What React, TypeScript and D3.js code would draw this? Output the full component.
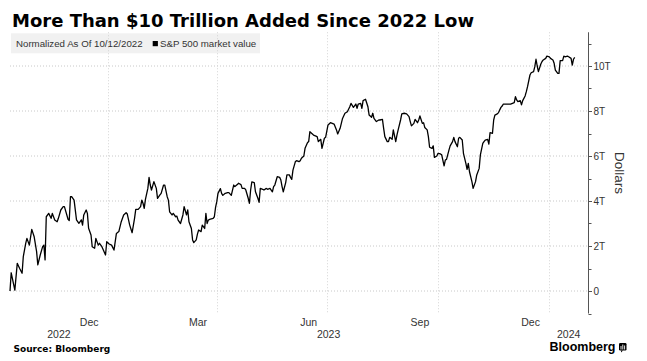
import React from "react";
import * as d3 from "d3";

// ---- DATA ----
const title = "More Than $10 Trillion Added Since 2022 Low";
const legendNote = "Normalized As Of 10/12/2022";
const seriesName = "S&P 500 market value";
const axisTitle = "Dollars";
const source = "Source: Bloomberg";

const dates: string[] = [
  "2022-10-12","2022-10-13","2022-10-16","2022-10-18","2022-10-20","2022-10-22","2022-10-23","2022-10-25","2022-10-26","2022-10-28",
  "2022-10-30","2022-11-01","2022-11-03","2022-11-04","2022-11-06","2022-11-08","2022-11-09","2022-11-10","2022-11-11","2022-11-13",
  "2022-11-15","2022-11-16","2022-11-18","2022-11-20","2022-11-21","2022-11-23","2022-11-25","2022-11-26","2022-11-29","2022-11-30",
  "2022-12-01","2022-12-02","2022-12-04","2022-12-06","2022-12-08","2022-12-10","2022-12-11","2022-12-12","2022-12-14","2022-12-15",
  "2022-12-16","2022-12-18","2022-12-19","2022-12-21","2022-12-22","2022-12-24","2022-12-25","2022-12-27","2022-12-30",
  "2022-12-31","2023-01-02","2023-01-04","2023-01-06","2023-01-08","2023-01-10","2023-01-12","2023-01-14","2023-01-16","2023-01-17",
  "2023-01-19","2023-01-21","2023-01-23","2023-01-24","2023-01-26","2023-01-28","2023-01-29","2023-01-30","2023-01-31","2023-02-01",
  "2023-02-03","2023-02-04","2023-02-05","2023-02-06","2023-02-08","2023-02-10","2023-02-11","2023-02-13","2023-02-14","2023-02-16",
  "2023-02-17","2023-02-19","2023-02-20","2023-02-21","2023-02-23","2023-02-24","2023-02-26","2023-02-27","2023-02-28","2023-03-02",
  "2023-03-04","2023-03-05","2023-03-07","2023-03-08","2023-03-09","2023-03-11","2023-03-12","2023-03-13","2023-03-15","2023-03-16",
  "2023-03-17","2023-03-19","2023-03-20","2023-03-22","2023-03-23","2023-03-24","2023-03-25",
  "2023-03-26","2023-03-29","2023-03-30","2023-03-31","2023-04-01","2023-04-02","2023-04-04","2023-04-05","2023-04-06","2023-04-08",
  "2023-04-10","2023-04-11","2023-04-13","2023-04-15","2023-04-16","2023-04-18","2023-04-19","2023-04-21","2023-04-22","2023-04-24",
  "2023-04-25","2023-04-27","2023-04-28","2023-04-29","2023-04-30","2023-05-02","2023-05-03","2023-05-05","2023-05-06","2023-05-07",
  "2023-05-09","2023-05-10","2023-05-12","2023-05-13","2023-05-15","2023-05-17","2023-05-18","2023-05-19","2023-05-21","2023-05-23",
  "2023-05-24","2023-05-25","2023-05-26","2023-05-28","2023-05-29","2023-05-31","2023-06-01","2023-06-02","2023-06-03","2023-06-05",
  "2023-06-06","2023-06-08","2023-06-09","2023-06-10","2023-06-12","2023-06-13","2023-06-15","2023-06-16",
  "2023-06-17","2023-06-20","2023-06-23","2023-06-24","2023-06-26","2023-06-27","2023-06-29","2023-06-30","2023-07-02","2023-07-04",
  "2023-07-07","2023-07-09","2023-07-10","2023-07-12","2023-07-14","2023-07-16","2023-07-18","2023-07-20","2023-07-21","2023-07-23",
  "2023-07-25","2023-07-26","2023-07-27","2023-07-29","2023-07-30","2023-07-31","2023-08-02","2023-08-04","2023-08-05","2023-08-07",
  "2023-08-08","2023-08-09","2023-08-11","2023-08-13",
  "2023-08-14","2023-08-16","2023-08-17","2023-08-18","2023-08-20","2023-08-21","2023-08-22","2023-08-24","2023-08-25","2023-08-27",
  "2023-08-28","2023-08-29","2023-08-31","2023-09-01","2023-09-03","2023-09-05","2023-09-07","2023-09-08","2023-09-09","2023-09-11",
  "2023-09-12","2023-09-14","2023-09-15","2023-09-16","2023-09-18","2023-09-19","2023-09-20","2023-09-22","2023-09-23","2023-09-24",
  "2023-09-26","2023-09-27","2023-09-28","2023-09-30","2023-10-01","2023-10-03","2023-10-04","2023-10-06","2023-10-07","2023-10-08",
  "2023-10-10","2023-10-11","2023-10-13","2023-10-14","2023-10-15","2023-10-17","2023-10-18","2023-10-19","2023-10-21","2023-10-22",
  "2023-10-24","2023-10-25","2023-10-26","2023-10-27","2023-10-29","2023-10-30","2023-11-01","2023-11-02","2023-11-04","2023-11-05",
  "2023-11-07","2023-11-08","2023-11-09","2023-11-11","2023-11-12","2023-11-13","2023-11-15","2023-11-16","2023-11-17","2023-11-19",
  "2023-11-20","2023-11-22","2023-11-23","2023-11-24","2023-11-26","2023-11-28","2023-11-30","2023-12-03","2023-12-04","2023-12-05",
  "2023-12-06","2023-12-08","2023-12-09","2023-12-10","2023-12-12","2023-12-13","2023-12-14","2023-12-16","2023-12-17","2023-12-19",
  "2023-12-20","2023-12-21","2023-12-22","2023-12-23","2023-12-25","2023-12-26","2023-12-27","2023-12-29","2023-12-30","2024-01-01",
  "2024-01-02","2024-01-04","2024-01-05","2024-01-06","2024-01-08","2024-01-09","2024-01-10","2024-01-12","2024-01-13","2024-01-14",
  "2024-01-16","2024-01-17","2024-01-19","2024-01-20","2024-01-21","2024-01-22",
];

// S&P 500 market value gain, trillions of dollars, normalized to 10/12/2022
const values: number[] = [
  0.0,0.81,0.04,1.23,1.0,0.79,1.53,2.12,2.34,2.04,
  2.74,2.41,1.75,1.16,1.6,1.97,2.04,1.38,3.3,3.45,
  3.23,3.45,3.16,3.08,3.23,3.6,3.75,3.75,3.19,3.13,
  4.19,4.19,4.04,3.16,3.01,3.16,2.93,3.38,3.6,3.45,
  2.79,2.49,1.97,1.9,2.34,2.04,2.12,1.97,1.6,
  2.19,2.09,2.04,1.82,2.56,2.64,3.08,3.38,3.48,3.42,
  2.93,2.59,3.23,3.63,3.63,3.75,4.04,3.9,3.67,4.07,
  4.56,5.05,4.71,4.49,4.86,4.56,4.12,4.27,4.34,4.71,
  4.71,4.19,4.04,3.52,3.38,3.45,3.3,3.33,3.15,3.0,
  3.38,3.75,3.38,3.6,3.08,2.78,2.27,2.15,2.27,2.53,
  2.71,2.64,2.93,2.78,3.45,3.0,3.15,
  3.18,3.23,3.3,3.72,3.97,4.34,4.55,4.34,4.25,4.34,
  4.37,4.37,4.25,4.71,4.64,4.73,4.79,4.73,4.56,4.56,
  4.49,4.12,3.9,4.49,4.85,4.82,4.41,4.12,3.94,4.56,
  4.52,4.49,4.56,4.52,4.56,4.41,4.64,4.71,5.08,5.05,
  4.93,4.64,4.41,4.82,5.16,5.16,5.05,4.96,5.37,5.75,
  5.79,5.75,5.79,5.9,6.0,6.34,6.59,6.64,
  7.08,6.93,6.86,6.64,6.74,6.34,6.79,6.83,7.38,7.48,
  7.42,7.16,6.98,7.23,7.67,7.9,7.97,8.19,8.34,8.16,
  8.31,8.12,8.31,8.34,8.12,8.46,8.52,8.19,7.82,7.72,
  7.9,7.67,7.53,7.6,
  7.6,7.63,7.23,6.86,6.64,6.64,6.83,6.74,7.16,6.64,
  6.93,7.16,7.6,7.87,7.9,7.87,7.75,7.53,7.34,7.45,
  7.63,7.48,7.6,7.78,7.45,7.48,7.27,7.16,6.86,6.39,
  6.34,6.45,5.94,6.0,6.12,6.09,6.05,5.56,5.82,5.85,
  6.26,6.45,6.64,6.83,6.64,6.41,6.79,6.83,6.71,6.12,
  5.67,5.41,5.67,5.3,4.86,4.56,4.86,5.16,5.45,6.05,
  6.56,6.64,6.71,6.74,6.53,7.04,7.01,7.6,7.82,7.87,
  7.93,8.16,8.22,8.31,8.31,8.31,8.31,8.37,8.64,8.49,
  8.42,8.46,8.27,8.46,8.67,8.86,9.08,9.6,9.7,9.75,
  9.97,10.3,10.0,9.75,10.09,10.2,10.27,10.34,10.44,10.41,
  10.34,10.27,10.12,9.82,9.67,9.67,10.24,10.24,10.44,10.41,
  10.44,10.41,10.34,10.04,10.3,10.38,
];

const xDomain: string[] = ["2022-10-12", "2024-02-02"];
const yDomain: number[] = [-1, 11.5];
const yMajorTicks: number[] = [0, 2, 4, 6, 8, 10];
const yMajorLabels: string[] = ["0", "2T", "4T", "6T", "8T", "10T"];
const yMinorTicks: number[] = [-1, 1, 3, 5, 7, 9, 11];
const monthLabelMonths: string[] = ["2022-12", "2023-03", "2023-06", "2023-09", "2023-12"];
const monthLabelTexts: string[] = ["Dec", "Mar", "Jun", "Sep", "Dec"];
const yearLabels: string[] = ["2022", "2023", "2024"];

// ---- LAYOUT ----
const W = 647;
const H = 361;
const plotLeft = 10;
const plotRight = 588;
const plotTop = 32.25;
const plotBottom = 313.5;
const sans = "'Liberation Sans', Arial, sans-serif";

const parseDay = d3.utcParse("%Y-%m-%d");
const parseMonth = d3.utcParse("%Y-%m");

export default function App() {
  const x = d3
    .scaleUtc()
    .domain([parseDay(xDomain[0]) as Date, parseDay(xDomain[1]) as Date])
    .range([plotLeft, plotRight]);
  const y = d3.scaleLinear().domain(yDomain).range([plotBottom, plotTop]);

  const points: [Date, number][] = dates.map((d, i) => [parseDay(d) as Date, values[i]]);
  const line = d3
    .line<[Date, number]>()
    .x((d) => x(d[0]))
    .y((d) => y(d[1]));

  const [d0, d1] = x.domain();
  const quarterLines = d3.utcMonth.every(3)!.range(d3.utcDay.offset(d0, 1), d1);

  const monthCenters = monthLabelMonths.map((m) => {
    const s = parseMonth(m) as Date;
    const e = d3.utcMonth.offset(s, 1);
    return (x(s) + x(e)) / 2;
  });

  const yearCenters = yearLabels.map((yr) => {
    const s = new Date(Date.UTC(+yr, 0, 1));
    const e = new Date(Date.UTC(+yr + 1, 0, 1));
    const a = Math.max(x(s), plotLeft);
    const b = Math.min(x(e), plotRight);
    return (a + b) / 2;
  });

  return (
    <svg
      width={W}
      height={H}
      viewBox={`0 0 ${W} ${H}`}
      style={{ position: "absolute", left: 0, top: 0, background: "#fff" }}
    >
      <rect x={0} y={0} width={W} height={H} fill="#fff" />
      {/* Title */}
      <text
        x={12}
        y={26.5}
        fontFamily="'DejaVu Sans', sans-serif"
        fontWeight={700}
        fontSize={18}
        fill="#000"
      >
        {title}
      </text>

      {/* Legend box */}
      <rect x={11} y={33.3} width={249} height={20} fill="#f1f1f1" />

      {/* Horizontal gridlines */}
      {yMajorTicks.map((t) => (
        <line
          key={"h" + t}
          x1={plotLeft}
          x2={plotRight}
          y1={y(t)}
          y2={y(t)}
          stroke="#c8c8c8"
          strokeWidth={1}
          strokeDasharray="1,2"
        />
      ))}
      {/* Vertical gridlines */}
      {quarterLines.map((d) => (
        <line
          key={"v" + d.toISOString()}
          x1={Math.round(x(d)) + 0.5}
          x2={Math.round(x(d)) + 0.5}
          y1={plotTop}
          y2={plotBottom}
          stroke="#d4d4d4"
          strokeWidth={1}
          strokeDasharray="1,2"
        />
      ))}

      {/* Legend text */}
      <text x={16} y={46.6} fontFamily={sans} fontSize={9.7} fill="#333">
        {legendNote}
      </text>
      <rect x={152.7} y={41} width={5.2} height={5.2} fill="#000" />
      <text x={160} y={46.6} fontFamily={sans} fontSize={9.7} fill="#333">
        {seriesName}
      </text>

      {/* Series line */}
      <path
        d={line(points) || ""}
        fill="none"
        stroke="#000"
        strokeWidth={1.3}
        strokeLinejoin="round"
      />

      {/* Right axis */}
      <line
        x1={plotRight + 0.5}
        x2={plotRight + 0.5}
        y1={plotTop}
        y2={plotBottom}
        stroke="#555"
        strokeWidth={1}
      />
      {yMinorTicks.map((t) => (
        <line
          key={"mn" + t}
          x1={plotRight + 0.5}
          x2={plotRight + 3.5}
          y1={Math.round(y(t)) + 0.5}
          y2={Math.round(y(t)) + 0.5}
          stroke="#555"
          strokeWidth={1}
        />
      ))}
      {yMajorTicks.map((t, i) => (
        <g key={"mj" + t}>
          <line
            x1={plotRight + 0.5}
            x2={plotRight + 4}
            y1={Math.round(y(t)) + 0.5}
            y2={Math.round(y(t)) + 0.5}
            stroke="#555"
            strokeWidth={1}
          />
          <text
            x={plotRight + 5.5}
            y={y(t) + 3.6}
            fontFamily={sans}
            fontSize={10}
            fill="#333"
          >
            {yMajorLabels[i]}
          </text>
        </g>
      ))}
      <text
        x={615}
        y={173}
        transform="rotate(90 615 173)"
        textAnchor="middle"
        fontFamily={sans}
        fontSize={13.5}
        fill="#333"
      >
        {axisTitle}
      </text>

      {/* Month labels */}
      {monthLabelTexts.map((m, i) => (
        <text
          key={"m" + i}
          x={monthCenters[i]}
          y={326}
          textAnchor="middle"
          fontFamily={sans}
          fontSize={10.5}
          fill="#333"
        >
          {m}
        </text>
      ))}
      {/* Year labels */}
      {yearLabels.map((yr, i) => (
        <text
          key={"y" + yr}
          x={yearCenters[i]}
          y={338}
          textAnchor="middle"
          fontFamily={sans}
          fontSize={10.5}
          fill="#333"
        >
          {yr}
        </text>
      ))}

      {/* Footer */}
      <text
        x={13.5}
        y={351.5}
        fontFamily="'DejaVu Sans', sans-serif"
        fontWeight={700}
        fontSize={9}
        fill="#000"
      >
        {source}
      </text>
      <text
        x={615.5}
        y={350.5}
        textAnchor="end"
        fontFamily={sans}
        fontWeight={700}
        fontSize={12.5}
        fill="#000"
      >
        Bloomberg
      </text>
      <g>
        <rect x={619} y={343} width={7.5} height={7.5} rx={1.2} fill="#000" />
        <path d="M 621 350.5 L 621 352.5 L 623 350.5 Z" fill="#000" />
        <line x1={621} x2={621} y1={346} y2={349.5} stroke="#fff" strokeWidth={0.9} />
        <line x1={622.8} x2={622.8} y1={344.5} y2={349.5} stroke="#fff" strokeWidth={0.9} />
        <line x1={624.6} x2={624.6} y1={345.5} y2={349.5} stroke="#fff" strokeWidth={0.9} />
      </g>
    </svg>
  );
}
